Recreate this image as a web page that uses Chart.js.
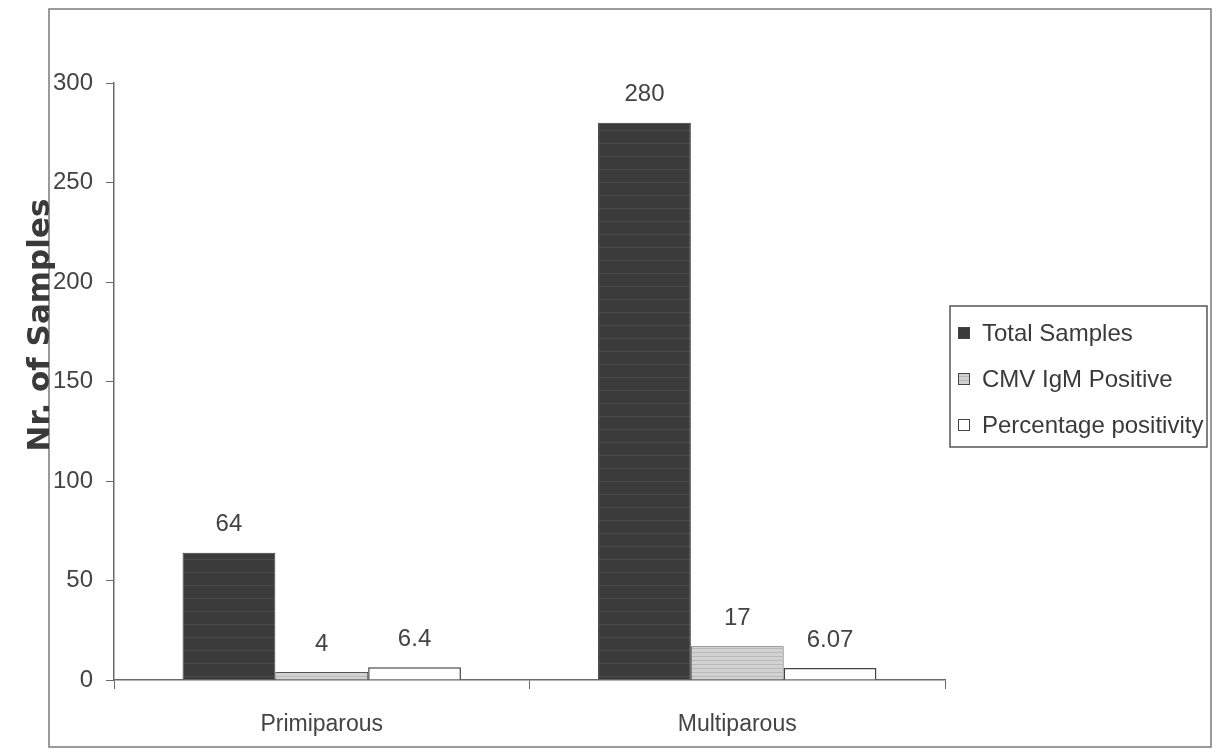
<!DOCTYPE html>
<html>
<head>
<meta charset="utf-8">
<script src="https://cdn.jsdelivr.net/npm/chart.js@4/dist/chart.umd.min.js"></script>
<style>
    html, body { margin: 0; padding: 0; background: #fff; }
    #wrap { width: 1218px; height: 749px; }
</style>
</head>
<body>
<div id="wrap"><canvas id="parityChart" width="1218" height="749"></canvas></div>
<script>
const categories = ['Primiparous', 'Multiparous'];
const totalSamples = [64, 280];
const cmvIgmPositive = [4, 17];
const percentagePositivity = [6.4, 6.07];
const yTicks = [0, 50, 100, 150, 200, 250, 300];
const seriesNames = ['Total Samples', 'CMV IgM Positive', 'Percentage positivity'];

// scanned-looking fills
function stripePattern(base, line, gap) {
    const c = document.createElement('canvas');
    c.width = 8; c.height = gap;
    const g = c.getContext('2d');
    g.fillStyle = base;
    g.fillRect(0, 0, 8, gap);
    g.fillStyle = line;
    g.fillRect(0, 0, 8, 1);
    return g.createPattern(c, 'repeat');
}

const ctx = document.getElementById('parityChart').getContext('2d');
const darkFill = stripePattern('#3b3b3b', '#4a4a4a', 13);
const lightFill = stripePattern('#d2d2d2', '#b9b9b9', 4);
const fills = [darkFill, lightFill, '#ffffff'];
const textFont = '"Liberation Sans", Arial, sans-serif';

const valueLabels = {
    id: 'valueLabels',
    afterDatasetsDraw(chart) {
        const c = chart.ctx;
        c.save();
        c.font = '24px ' + textFont;
        c.fillStyle = '#444';
        c.textAlign = 'center';
        c.textBaseline = 'bottom';
        chart.data.datasets.forEach((ds, i) => {
            chart.getDatasetMeta(i).data.forEach((bar, j) => {
                c.fillText(String(ds.data[j]), bar.x, bar.y - 16);
            });
        });
        c.restore();
    }
};

const frameAndLegend = {
    id: 'frameAndLegend',
    afterDraw(chart) {
        const c = chart.ctx;
        c.save();
        // outer border
        c.strokeStyle = '#7a7a7a';
        c.lineWidth = 1.5;
        c.strokeRect(49, 9, 1162, 738);

        // y title (handwritten in the scan)
        c.translate(41, 325);
        c.rotate(-Math.PI / 2);
        c.font = 'bold 31px "DejaVu Sans"';
        c.fillStyle = '#3a3a3a';
        c.textAlign = 'center';
        c.textBaseline = 'middle';
        c.fillText('Nr. of Samples', 0, 0);
        c.setTransform(1, 0, 0, 1, 0, 0);

        // legend
        c.strokeStyle = '#555';
        c.lineWidth = 1.5;
        c.strokeRect(950, 306, 257, 141);
        c.font = '24px ' + textFont;
        c.textBaseline = 'middle';
        c.textAlign = 'left';
        chart.data.datasets.forEach((ds, i) => {
            const y = 333 + i * 46;
            c.fillStyle = fills[i];
            c.fillRect(958, y - 6, 12, 12);
            c.strokeStyle = '#444';
            c.lineWidth = 1;
            c.strokeRect(958.5, y - 5.5, 11, 11);
            c.fillStyle = '#3a3a3a';
            c.fillText(ds.label, 982, y + 1);
        });
        c.restore();
    }
};

new Chart(ctx, {
    type: 'bar',
    data: {
        labels: categories,
        datasets: [
            { label: seriesNames[0], data: totalSamples, backgroundColor: darkFill, borderColor: '#3a3a3a', borderWidth: 1 },
            { label: seriesNames[1], data: cmvIgmPositive, backgroundColor: lightFill, borderColor: '#555', borderWidth: 1 },
            { label: seriesNames[2], data: percentagePositivity, backgroundColor: '#ffffff', borderColor: '#444', borderWidth: 1.5 }
        ]
    },
    options: {
        responsive: false,
        animation: false,
        layout: { padding: { top: 83, right: 273, left: 0, bottom: 0 } },
        datasets: { bar: { categoryPercentage: 0.67, barPercentage: 1 } },
        plugins: {
            legend: { display: false },
            tooltip: { enabled: false }
        },
        scales: {
            x: {
                offset: true,
                grid: { offset: true, drawOnChartArea: false, tickLength: 9, color: '#6a6a6a' },
                border: { color: '#6a6a6a', width: 1.5 },
                ticks: { color: '#444', font: { family: textFont, size: 23 }, padding: 22 },
                afterFit(scale) { scale.height = 69; }
            },
            y: {
                min: 0,
                max: 300,
                afterBuildTicks(scale) { scale.ticks = yTicks.map(v => ({ value: v })); },
                grid: { drawOnChartArea: false, tickLength: 8, color: '#6a6a6a' },
                border: { color: '#6a6a6a', width: 1.5 },
                ticks: { color: '#444', font: { family: textFont, size: 24 }, padding: 13 },
                afterFit(scale) { scale.width = 114; }
            }
        }
    },
    plugins: [valueLabels, frameAndLegend]
});
</script>
</body>
</html>
